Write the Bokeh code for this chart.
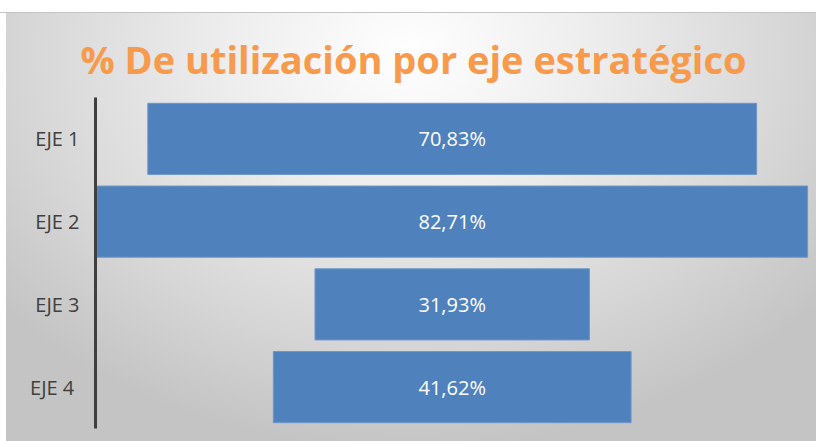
from bokeh.plotting import figure
from bokeh.models import FactorRange, Range1d, ColumnDataSource, LabelSet
from bokeh.core.properties import value
from bokeh.embed import file_html
from bokeh.resources import INLINE

categories = ["EJE 1", "EJE 2", "EJE 3", "EJE  4"]
values = [70.83, 82.71, 31.93, 41.62]
value_labels = ["70,83%", "82,71%", "31,93%", "41,62%"]
title_text = "% De utilización por eje estratégico"

src = ColumnDataSource(dict(
    cat=categories,
    left=[-v / 2 for v in values],
    right=[v / 2 for v in values],
    mid=[0.0 for v in values],
    lab=value_labels,
))

p = figure(
    width=816, height=441,
    y_range=FactorRange(factors=list(reversed(categories)), range_padding=0),
    x_range=Range1d(-41.5, 41.45),
    output_backend="svg", toolbar_location=None,
    min_border_left=95, min_border_right=8, min_border_top=97, min_border_bottom=13,
)
p.styles = {
    "background": "linear-gradient(#ffffff 0px, #ffffff 12px, #c4c4c4 12px, #c4c4c4 13px, transparent 13px), "
                  "linear-gradient(to right, #ffffff 0px, #ffffff 6px, transparent 6px), "
                  "radial-gradient(ellipse 65% 90% at 50% 12%, #ffffff 0%, #ededed 35%, #d8d8d8 70%, #c4c4c4 100%)"
}
p.background_fill_alpha = 0
p.border_fill_alpha = 0
p.outline_line_color = None

p.title.text = title_text
p.title.text_font = "Open Sans"
p.title.text_font_size = "38px"
p.title.text_font_style = "bold"
p.title.text_color = "#F79A4C"
p.title.align = "left"
p.title.offset = -15
p.title.standoff = 25

p.hbar(y="cat", left="left", right="right", height=0.86, source=src,
       fill_color="#4F81BD", line_color="#6F97CB", line_width=1)

labels = LabelSet(x="mid", y="cat", text="lab", source=src,
                  text_align="center", text_baseline="middle",
                  text_color="white", text_font=value("Open Sans"), text_font_size="20px")
p.add_layout(labels)

p.xaxis.visible = False
p.xgrid.visible = False
p.ygrid.visible = False
yax = p.yaxis[0]
yax.axis_line_color = "#3f3f3f"
yax.axis_line_width = 3
yax.major_tick_line_color = None
yax.minor_tick_line_color = None
yax.major_label_text_font = "Open Sans"
yax.major_label_text_font_size = "20px"
yax.major_label_text_color = "#404040"
yax.major_label_standoff = 10
yax.major_label_overrides = {c: c.replace("  ", " \u00a0") for c in categories}

open("out.html", "w").write(file_html(p, INLINE))
